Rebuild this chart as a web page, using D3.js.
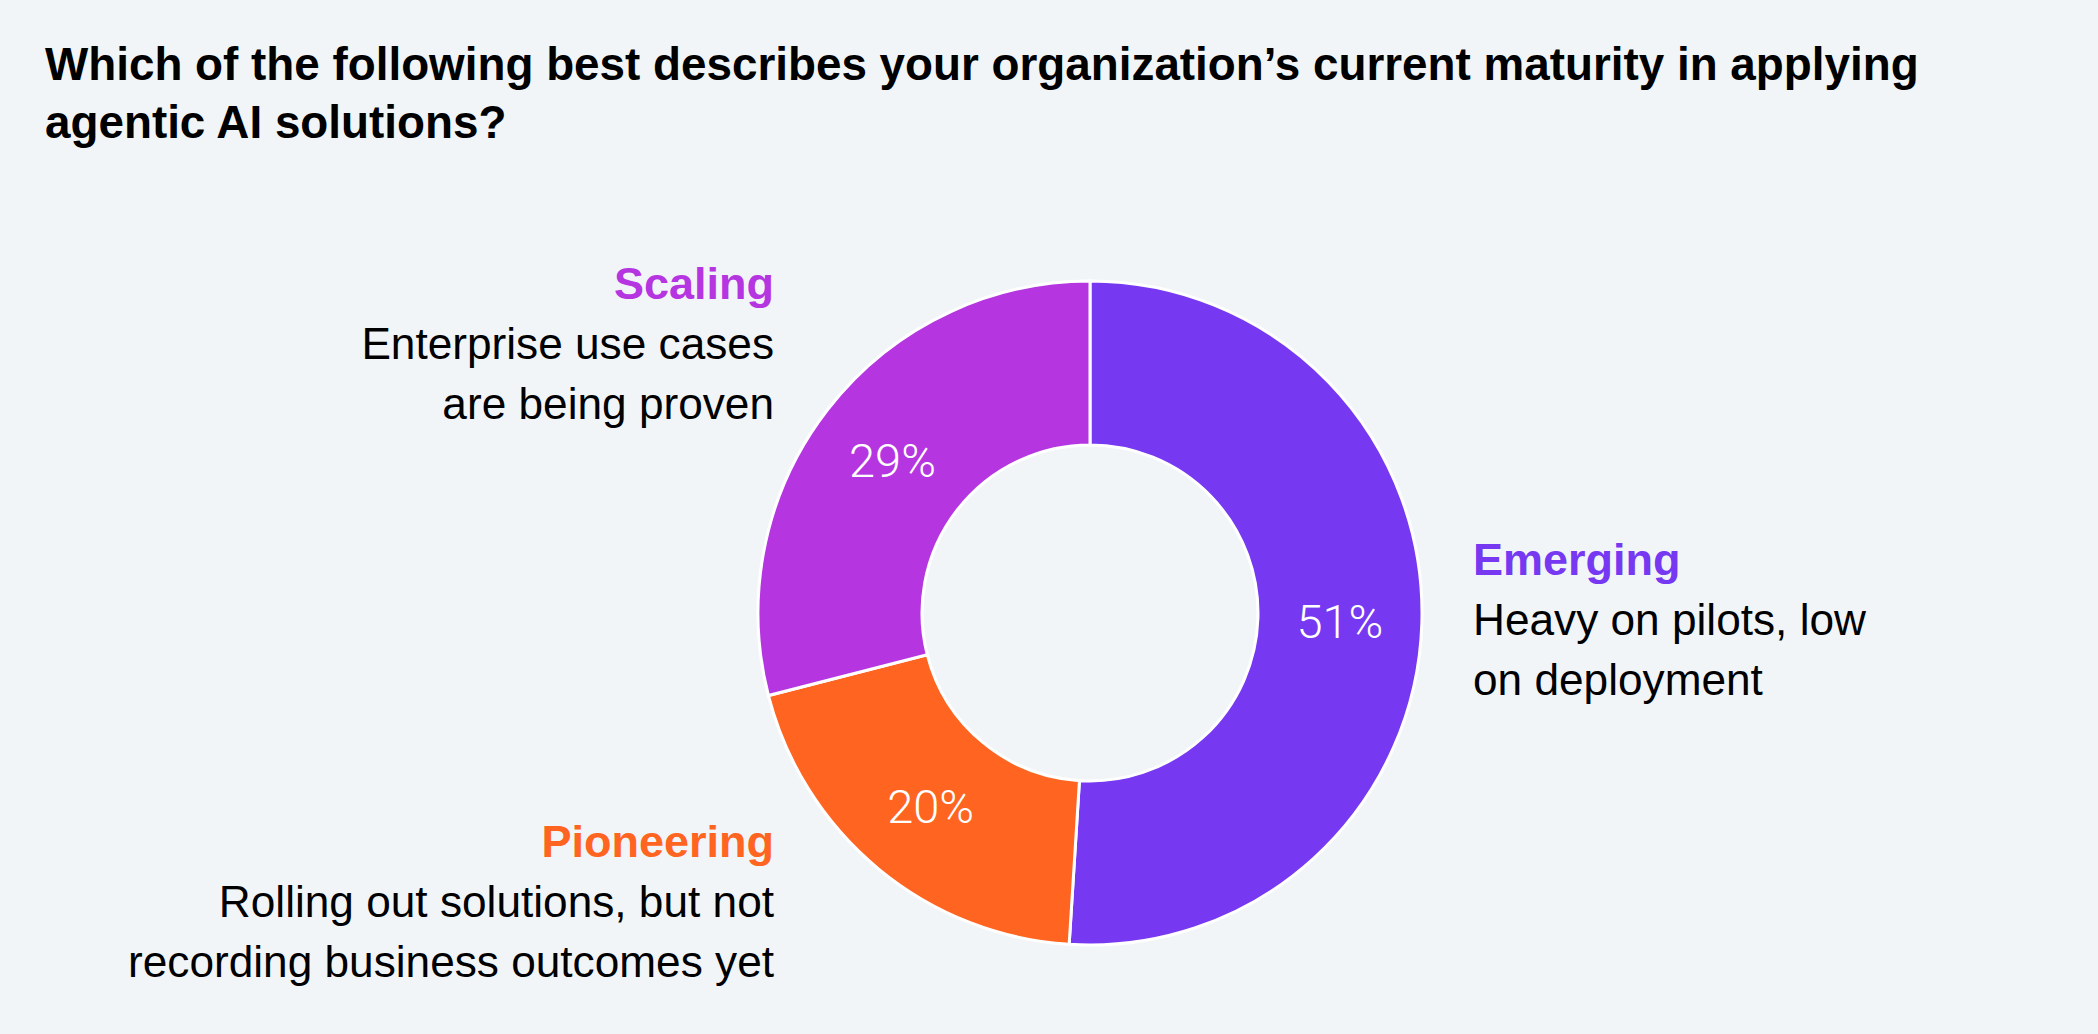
<!DOCTYPE html>
<html>
  <head>
    <meta charset="utf-8">
    <title>Agentic AI maturity</title>
    <style>
      body { margin: 0; background-color: #f2f5f8; }
      svg { display: block; font-family: "Liberation Sans", Arial, sans-serif; }
    </style>
  </head>
  <body>
    <script src="https://d3js.org/d3.v7.min.js"></script>
    <script>
      const categories = ["Emerging", "Pioneering", "Scaling"]
      const values = [51, 20, 29]
      const descriptions = [
        ["Heavy on pilots, low", "on deployment"],
        ["Rolling out solutions, but not", "recording business outcomes yet"],
        ["Enterprise use cases", "are being proven"]
      ]
      const colors = ["#7638f1", "#ff6420", "#b536e0"]
      const titleLines = [
        "Which of the following best describes your organization\u2019s current maturity in applying",
        "agentic AI solutions?"
      ]

      const w = 2098
      const h = 1034
      const cx = 1090
      const cy = 613
      const outerR = 332
      const innerR = 168

      const svg = d3.select("body")
        .append("svg")
          .attr("width", w)
          .attr("height", h)

      svg.append("rect")
        .attr("width", w)
        .attr("height", h)
        .attr("fill", "#f2f5f8")

      svg.append("g")
        .selectAll("text")
        .data(titleLines)
        .enter()
        .append("text")
          .attr("x", 45)
          .attr("y", (d, i) => 80 + i * 58)
          .attr("font-size", 45.8)
          .attr("font-weight", "bold")
          .attr("fill", "#000")
          .text(d => d)

      const pie = d3.pie().sort(null).value(d => d)
      const arcs = pie(values)
      const arc = d3.arc().innerRadius(innerR).outerRadius(outerR)
      const labelArc = d3.arc().innerRadius((innerR + outerR) / 2).outerRadius((innerR + outerR) / 2)

      const donut = svg.append("g")
        .attr("transform", "translate(" + cx + "," + cy + ")")

      donut.selectAll("path")
        .data(arcs)
        .enter()
        .append("path")
          .attr("d", arc)
          .attr("fill", (d, i) => colors[i])
          .attr("stroke", "#fff")
          .attr("stroke-width", 3)

      donut.selectAll("text")
        .data(arcs)
        .enter()
        .append("text")
          .attr("transform", d => "translate(" + labelArc.centroid(d) + ")")
          .attr("text-anchor", "middle")
          .attr("dy", "0.36em")
          .attr("font-size", 47)
          .attr("font-family", "Roboto, 'Liberation Sans', sans-serif")
          .attr("font-weight", 300)
          .attr("fill", "#fff")
          .text(d => d.data + "%")

      // legend blocks: where each label sits
      const legendPos = [
        {x: 1473, y: 575, anchor: "start"},
        {x: 774, y: 857, anchor: "end"},
        {x: 774, y: 299, anchor: "end"}
      ]

      categories.forEach(function(c, i) {
        const p = legendPos[i]
        const g = svg.append("g")
        g.append("text")
          .attr("x", p.x)
          .attr("y", p.y)
          .attr("text-anchor", p.anchor)
          .attr("font-size", 45)
          .attr("font-weight", "bold")
          .attr("fill", colors[i])
          .text(c)
        g.selectAll(".desc")
          .data(descriptions[i])
          .enter()
          .append("text")
            .attr("class", "desc")
            .attr("x", p.x)
            .attr("y", (d, j) => p.y + 60 * (j + 1))
            .attr("text-anchor", p.anchor)
            .attr("font-size", 44.2)
            .attr("fill", "#000")
            .text(d => d)
      })
    </script>
  </body>
</html>
